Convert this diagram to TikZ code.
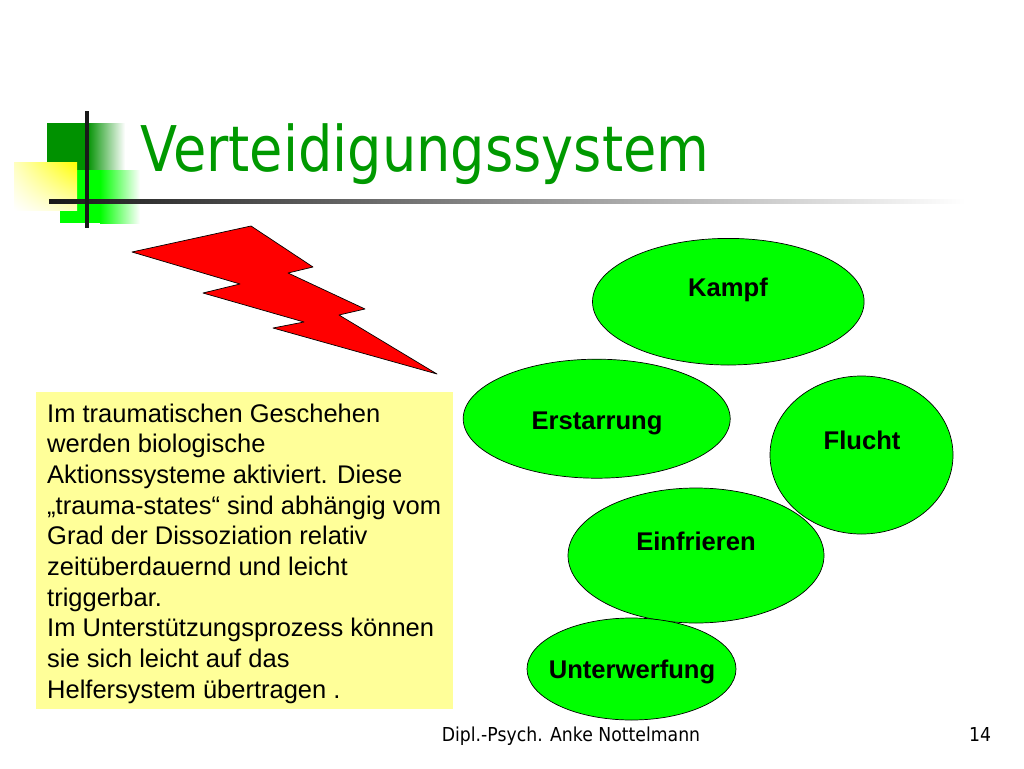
\documentclass[tikz,border=0pt]{standalone}
\usepackage{fontspec}
\setmainfont{Liberation Sans}
\newfontfamily\titlefont[FakeStretch=0.86]{DejaVu Sans}
\newfontfamily\footfont[FakeStretch=0.9]{DejaVu Sans}
\usetikzlibrary{shadings,shapes.geometric}
\definecolor{tgreen}{RGB}{0,153,0}
\definecolor{dgreen}{RGB}{0,145,0}
\definecolor{bgreen}{RGB}{0,255,0}
\definecolor{pale}{RGB}{255,255,153}
\tikzset{
  blob/.style={draw=black,line width=0.7pt,fill=bgreen,ellipse,inner sep=0pt,outer sep=0pt},
  lab/.style={font=\fontsize{25.6}{25.6}\selectfont\bfseries,text=black,anchor=base,inner sep=0pt},
  bodyline/.style={anchor=base west,inner sep=0pt,font=\fontsize{25.5}{25.5}\selectfont},
  footer/.style={anchor=base,inner sep=0pt,font=\footfont\fontsize{19.2}{19.2}\selectfont},
}
\begin{document}
\begin{tikzpicture}[x=1pt,y=-1pt]
\useasboundingbox (0,0) rectangle (1024,768);
\fill[white] (0,0) rectangle (1024,768);
% logo
\shade[left color=dgreen,right color=white] (87,123) rectangle (125,170);
\fill[dgreen] (47,123) rectangle (88,170);
\shade[left color=bgreen,right color=white] (100,170) rectangle (140,223);
\fill[bgreen] (77,170) rectangle (100.5,223);
\fill[bgreen] (60,210) rectangle (77,223);
\shade[lower left=white,upper right=yellow,upper left=white!75!yellow,lower right=white!75!yellow] (14,162) rectangle (77,210);
\shade[left color=black!90,right color=white] (49,199) rectangle (965,203);
\fill[black!90] (85,111) rectangle (89,228);
% title
\node[anchor=base west,inner sep=0pt,text=tgreen,font=\titlefont\fontsize{63}{63}\selectfont] (title) at (140,171) {Verteidigungssystem};
% bolt
\draw[draw=black,line width=0.7pt,fill=red,line join=round] (132,252) -- (251,226) -- (313,267) -- (288,273) -- (365,309) -- (339,315) -- (437,374) -- (273,328) -- (304,322) -- (203,293) -- (240,284) -- cycle;
% box
\fill[pale] (36,392) rectangle (453,709);
\foreach \t [count=\i from 0] in {Im traumatischen Geschehen,werden biologische,Aktionssysteme aktiviert. Diese,„trauma-states“ sind abhängig vom,Grad der Dissoziation relativ,zeitüberdauernd und leicht,triggerbar.,Im Unterstützungsprozess können,sie sich leicht auf das,Helfersystem übertragen .}
  \node[bodyline] (line\i) at (47,{422+30.67*\i}) {\t};
% ellipses
\node[blob,minimum width=271.6pt,minimum height=126.6pt] (kampfE) at (728.3,301.7) {};
\node[blob,minimum width=267pt,minimum height=119pt] (erstE) at (596.7,418.7) {};
\node[blob,minimum width=183pt,minimum height=158pt] (fluchtE) at (861.5,455) {};
\node[blob,minimum width=256pt,minimum height=135pt] (einfE) at (696,555.5) {};
\node[blob,minimum width=209pt,minimum height=102pt] (unterE) at (631.5,669) {};
\node[lab] (kampf) at (728,296.5) {Kampf};
\node[lab] (erst) at (597,429) {Erstarrung};
\node[lab] (flucht) at (862,449) {Flucht};
\node[lab] (einf) at (696,550.5) {Einfrieren};
\node[lab] (unter) at (632,678) {Unterwerfung};
% footer
\node[footer] (foot) at (571,741) {Dipl.-Psych. Anke Nottelmann};
\node[footer] (num) at (980,741) {14};
\end{tikzpicture}
\end{document}
